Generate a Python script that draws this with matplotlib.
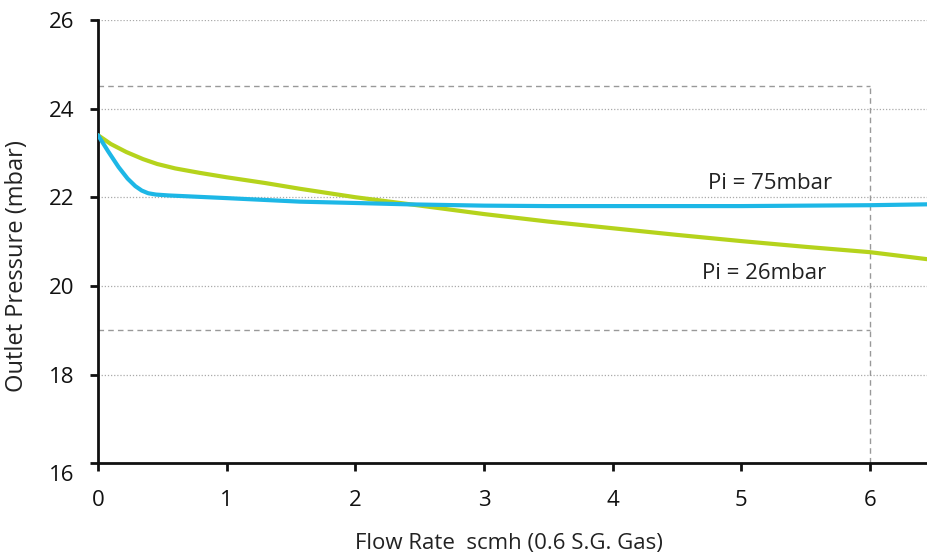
import numpy as np
import matplotlib.pyplot as plt
import matplotlib.transforms as mtransforms

# Pi = 26mbar curve (green)
flow_26 = [0.0, 0.1, 0.22, 0.35, 0.46, 0.6, 0.79, 1.0, 1.3, 1.57, 2.0, 2.4, 3.0, 3.5, 4.0, 4.5, 5.0, 5.5, 6.0, 6.45]
press_26 = [23.4, 23.2, 23.02, 22.86, 22.75, 22.65, 22.55, 22.45, 22.32, 22.19, 22.0, 21.85, 21.62, 21.45, 21.3, 21.15, 21.01, 20.88, 20.76, 20.6]

# Pi = 75mbar curve (blue)
flow_75 = [0.0, 0.08, 0.16, 0.23, 0.29, 0.34, 0.39, 0.45, 0.55, 0.7, 1.0, 1.57, 2.0, 2.4, 3.0, 3.5, 4.0, 4.5, 5.0, 5.5, 6.0, 6.45]
press_75 = [23.4, 23.03, 22.68, 22.42, 22.25, 22.15, 22.09, 22.06, 22.04, 22.02, 21.98, 21.9, 21.87, 21.84, 21.81, 21.8, 21.8, 21.8, 21.8, 21.81, 21.82, 21.84]

x_ticks = [0, 1, 2, 3, 4, 5, 6]
y_ticks = [16, 18, 20, 22, 24, 26]
grid_levels = [18, 20, 22, 24, 26]

# tolerance limits
upper_limit = 24.5
lower_limit = 19.0
max_flow = 6.0

green = '#b5d31c'
blue = '#1db7e6'
plt.rcParams['font.family'] = ['Open Sans', 'DejaVu Sans']

fig = plt.figure(figsize=(9.28, 5.54), dpi=100)
ax = fig.add_axes([0.1056, 0.164, 0.8944, 0.800])

for lvl in grid_levels:
    ax.axhline(lvl, color='#aaaaaa', linestyle=(0, (1, 1.5)), linewidth=0.9, zorder=1)

ax.plot([0, max_flow], [upper_limit, upper_limit], color='#999999', linestyle=(0, (4, 3)), linewidth=1.0, zorder=2)
ax.plot([0, max_flow], [lower_limit, lower_limit], color='#999999', linestyle=(0, (4, 3)), linewidth=1.0, zorder=2)
ax.plot([max_flow, max_flow], [16, upper_limit], color='#999999', linestyle=(0, (4, 3)), linewidth=1.0, zorder=2)

ax.plot(flow_26, press_26, color=green, linewidth=3, solid_capstyle='round', solid_joinstyle='round', zorder=3)
ax.plot(flow_75, press_75, color=blue, linewidth=3, solid_capstyle='round', solid_joinstyle='round', zorder=4)

ax.text(5.22, 22.32, 'Pi = 75mbar', fontsize=16, color='#222222', ha='center', va='center')
ax.text(5.18, 20.29, 'Pi = 26mbar', fontsize=16, color='#222222', ha='center', va='center')

ax.set_xlim(0, 6.45)
ax.set_ylim(16, 26)
ax.set_xticks(x_ticks)
ax.set_yticks(y_ticks)
ax.tick_params(axis='both', labelsize=16, width=2, length=6, direction='out', colors='#111111')
ax.tick_params(axis='x', pad=13)
ax.tick_params(axis='y', pad=11)

# the lowest y label sits a bit below its tick in the original
lbl16 = ax.get_yticklabels()[0]
lbl16.set_transform(lbl16.get_transform() + mtransforms.ScaledTranslation(0, -7 / 72, fig.dpi_scale_trans))

for side in ['top', 'right']:
    ax.spines[side].set_visible(False)
for side in ['left', 'bottom']:
    ax.spines[side].set_linewidth(2)
    ax.spines[side].set_color('#111111')

ax.set_xlabel('Flow Rate  scmh (0.6 S.G. Gas)', fontsize=16, color='#222222')
ax.set_ylabel('Outlet Pressure (mbar)', fontsize=17, color='#222222')
ax.xaxis.set_label_coords(0.495, -0.181)
ax.xaxis.label.set_va('center')
ax.yaxis.set_label_coords(-0.097, 0.445)
ax.yaxis.label.set_va('center')

fig.savefig('out.png', dpi=100)
